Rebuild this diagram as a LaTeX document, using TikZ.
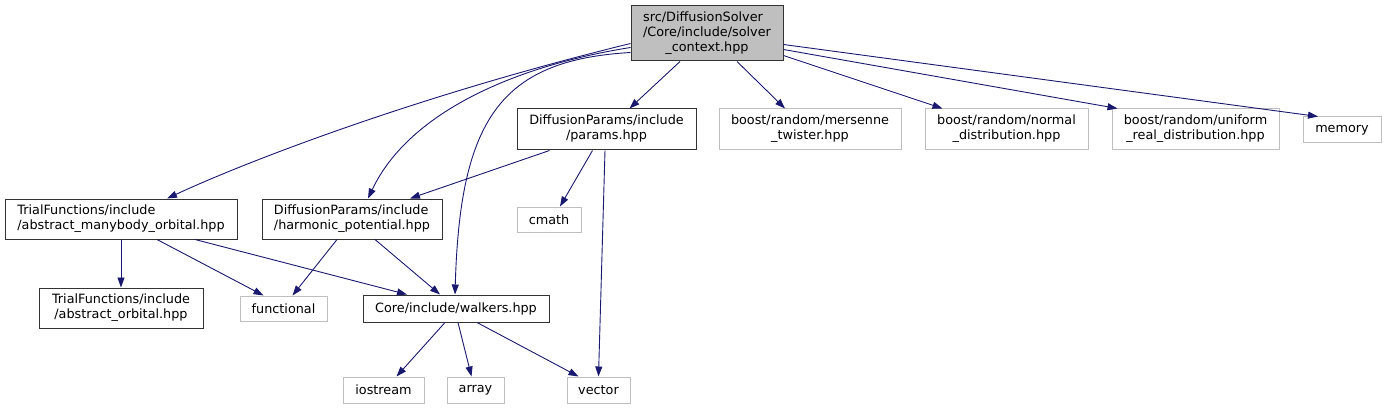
\documentclass[tikz,border=0pt]{standalone}
\usepackage{fontspec}
\setmainfont{DejaVu Sans}
\usetikzlibrary{arrows.meta}

\definecolor{edgeblue}{RGB}{25,25,112}
\definecolor{sysgray}{RGB}{191,191,191}

\newcommand{\twolines}[2]{\begin{tabular}{@{}l@{}}#1\\\multicolumn{1}{@{}c@{}}{#2}\end{tabular}}

\tikzset{
    file/.style={draw=black!80, line width=1pt, inner sep=0pt, font=\fontsize{12.8}{15}\selectfont},
    sysfile/.style={file, draw=sysgray},
    rootfile/.style={file, fill=sysgray},
    dep/.style={draw=edgeblue, line width=0.9pt, -{Triangle[length=10pt,width=7pt]}}
}

\begin{document}
\begin{tikzpicture}[x=1pt, y=-1pt]
    \useasboundingbox (0,0) rectangle (1387,409);
    \renewcommand{\arraystretch}{1}

    % Draw nodes
    \node[rootfile, minimum width=152, minimum height=55] (root) at (707,33.5)
        {\begin{tabular}{@{}l@{}}src/DiffusionSolver\\/Core/include/solver\\\multicolumn{1}{@{}c@{}}{\_context.hpp}\end{tabular}};
    \node[file, minimum width=179, minimum height=41] (params) at (606.5,129.5) {\twolines{DiffusionParams/include}{/params.hpp}};
    \node[sysfile, minimum width=182, minimum height=41] (mersenne) at (810,129.5) {\twolines{boost/random/mersenne}{\_twister.hpp}};
    \node[sysfile, minimum width=163, minimum height=41] (normal) at (1006.5,129.5) {\twolines{boost/random/normal}{\_distribution.hpp}};
    \node[sysfile, minimum width=167, minimum height=41] (uniform) at (1195.5,129.5) {\twolines{boost/random/uniform}{\_real\_distribution.hpp}};
    \node[sysfile, minimum width=78, minimum height=26] (memory) at (1342,130) {memory};
    \node[file, minimum width=232, minimum height=40] (manybody) at (121,219) {\twolines{TrialFunctions/include}{/abstract\_manybody\_orbital.hpp}};
    \node[file, minimum width=180, minimum height=40] (harmonic) at (352,219) {\twolines{DiffusionParams/include}{/harmonic\_potential.hpp}};
    \node[sysfile, minimum width=64, minimum height=25] (cmath) at (549,219.5) {cmath};
    \node[file, minimum width=164, minimum height=40] (orbital) at (121,308) {\twolines{TrialFunctions/include}{/abstract\_orbital.hpp}};
    \node[sysfile, minimum width=87, minimum height=25] (functional) at (283.5,308.5) {functional};
    \node[file, minimum width=186, minimum height=27] (walkers) at (456,308.5) {Core/include/walkers.hpp};
    \node[sysfile, minimum width=81, minimum height=26] (iostream) at (383.5,390) {iostream};
    \node[sysfile, minimum width=57, minimum height=26] (array) at (475.5,390) {array};
    \node[sysfile, minimum width=63, minimum height=26] (vector) at (598.5,390) {vector};

    % Draw connections
    \draw[dep] ([yshift=-10]root.west) .. controls (420,95) and (250,160) .. ([xshift=46]manybody.north);
    \draw[dep] ([yshift=-14]root.west) .. controls (520,65) and (410,110) .. ([xshift=16]harmonic.north);
    \draw[dep] ([yshift=-19]root.west) .. controls (500,60) and (460,120) .. ([xshift=-1]walkers.north);
    \draw[dep] ([xshift=-27]root.south) -- ([xshift=23]params.north);
    \draw[dep] ([xshift=30]root.south) -- ([xshift=-25]mersenne.north);
    \draw[dep] ([yshift=-22]root.east) -- ([xshift=-64]normal.north);
    \draw[dep] ([yshift=-16]root.east) -- ([xshift=-78]uniform.north);
    \draw[dep] ([yshift=-11]root.east) -- ([xshift=-24]memory.north);

    \draw[dep] ([xshift=-57]params.south) -- ([xshift=58]harmonic.north);
    \draw[dep] ([xshift=-14]params.south) -- ([xshift=11]cmath.north);
    \draw[dep] ([xshift=-1.5]params.south) -- (vector.north);

    \draw[dep] (manybody.south) -- (orbital.north);
    \draw[dep] ([xshift=36]manybody.south) -- ([xshift=-20]functional.north);
    \draw[dep] ([xshift=74]manybody.south) -- ([xshift=-49]walkers.north);
    \draw[dep] ([xshift=-15]harmonic.south) -- ([xshift=9]functional.north);
    \draw[dep] ([xshift=23]harmonic.south) -- ([xshift=-16]walkers.north);

    \draw[dep] ([xshift=-11]walkers.south) -- ([xshift=13]iostream.north);
    \draw[dep] ([xshift=2]walkers.south) -- ([xshift=-4]array.north);
    \draw[dep] ([xshift=21]walkers.south) -- ([xshift=-20]vector.north);
\end{tikzpicture}
\end{document}
